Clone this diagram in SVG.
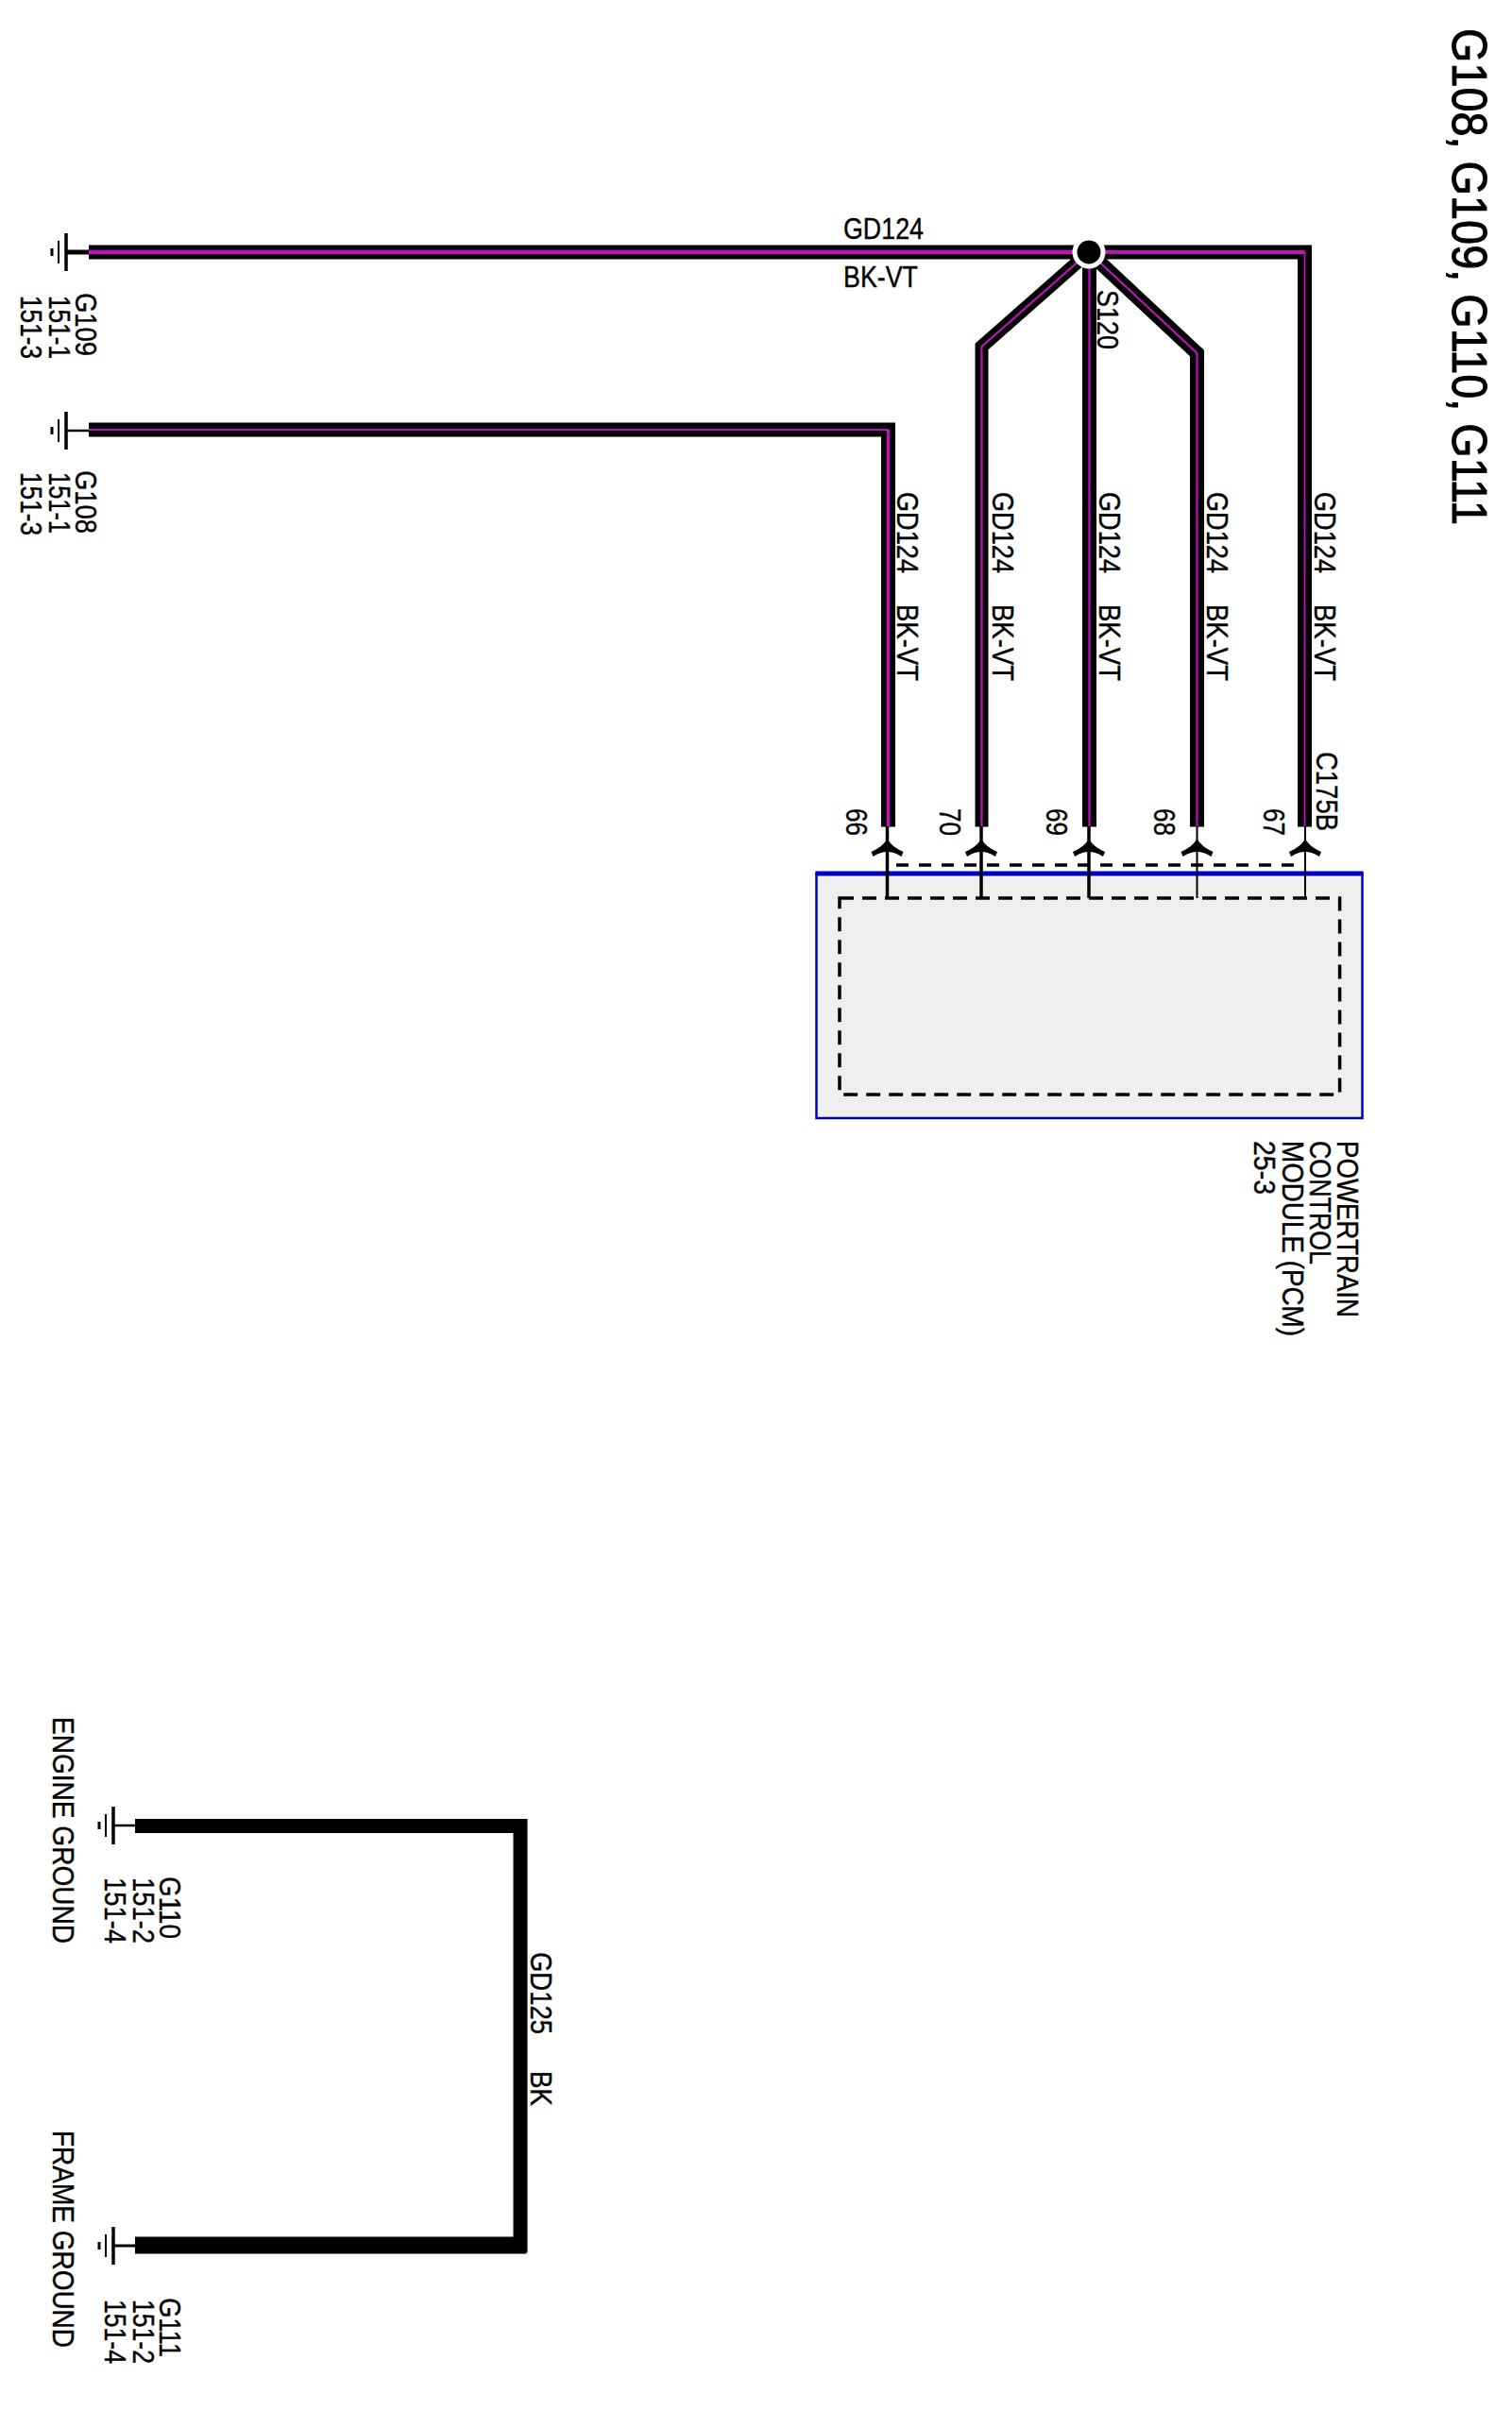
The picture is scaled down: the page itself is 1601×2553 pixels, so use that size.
<svg xmlns="http://www.w3.org/2000/svg" xmlns:xlink="http://www.w3.org/1999/xlink" width="1601" height="2553" viewBox="0 0 1601 2553">
<style>
text{font-family:"Liberation Sans",Arial,sans-serif;font-size:32px;fill:#000;stroke:#000;stroke-width:.4}
.title{font-size:51px;stroke-width:.9}
.bk{fill:none;stroke:#000;stroke-miterlimit:10}
.vt{fill:none;stroke:#bb14bb;stroke-miterlimit:10}
.dash{fill:none;stroke:#000;stroke-width:3.5}
.pin{stroke:#000;stroke-width:3.5;fill:none}
.chev{fill:#000;stroke:none}
.g{stroke:#000;fill:none}
</style>
<defs>
<path id="chev" class="chev" d="M0 -2 C4 5 10 9 17 12 L15 17 C9 13 4 12 0 12 C-4 12 -9 13 -15 17 L-17 12 C-10 9 -4 5 0 -2Z"/>
<g id="gnd1">
<path class="g" stroke-width="3.5" d="M0 -20V20"/>
<path class="g" stroke-width="2" d="M-8 -12V12"/>
<path class="g" stroke-width="3" d="M-15 -4V4"/>
</g>
</defs>
<rect width="1601" height="2553" fill="#fff"/>

<g id="title"><text class="title" transform="translate(1538,30) rotate(90)" textLength="526" lengthAdjust="spacingAndGlyphs">G108, G109, G110, G111</text></g>

<g id="connectors">
<path class="bk" stroke-width="15" d="M94 267H1153"/>
<path class="vt" stroke-width="4.5" d="M94 267H1153"/>
<path class="bk" stroke-width="15" d="M1153 267H1381.5V875.5"/>
<path class="vt" stroke-width="4" d="M1153 267H1381.5"/>
<path class="vt" stroke-width="1.8" d="M1381.5 267V875.5"/>
<path class="bk" stroke-width="15" d="M94 455H940.5V875.5"/>
<path class="vt" stroke-width="2" d="M94 455H940.5"/>
<path class="vt" stroke-width="3.5" d="M940.5 455V875.5"/>
<path class="bk" stroke-width="14" d="M1153 267L1039.5 367V875.5"/>
<path class="vt" stroke-width="2.2" d="M1153 267L1039.5 367V875.5"/>
<path class="bk" stroke-width="15" d="M1153.5 267V875.5"/>
<path class="vt" stroke-width="2.2" d="M1153.5 267V875.5"/>
<path class="bk" stroke-width="15" d="M1153 267L1267.5 374V875.5"/>
<path class="vt" stroke-width="2.2" d="M1153 267L1267.5 374V875.5"/>
<path class="bk" stroke-width="15" d="M143 1933.5H551V2377.5H143"/>
<path class="bk" stroke-width="18" d="M143 2377.5H557.5"/>
</g>

<g id="pcm">
<rect x="864.5" y="925" width="578" height="259" fill="#efefef" stroke="#0000c4" stroke-width="2.5"/>
<path d="M863.5 925H1443.5" stroke="#0000c4" stroke-width="5"/>
<path class="dash" d="M889 951H1418.6V1159H889Z" stroke-dasharray="15 9"/>
<path class="dash" d="M949 916H1382" stroke-dasharray="13 11"/>
<path class="pin" d="M939.5 875V951"/>
<path class="pin" d="M1039 875V951"/>
<path class="pin" d="M1153 875V951"/>
<path class="pin" style="stroke-width:2" d="M1267.5 875V951"/>
<path class="pin" style="stroke-width:2" d="M1382 875V951"/>
<use xlink:href="#chev" href="#chev" x="939.5" y="890"/>
<use xlink:href="#chev" href="#chev" x="1039" y="890"/>
<use xlink:href="#chev" href="#chev" x="1153" y="890"/>
<use xlink:href="#chev" href="#chev" x="1267.5" y="890"/>
<use xlink:href="#chev" href="#chev" x="1382" y="890"/>
<text transform="translate(1416,1208) rotate(90)" textLength="187" lengthAdjust="spacingAndGlyphs">POWERTRAIN</text>
<text transform="translate(1386.5,1208) rotate(90)" textLength="131" lengthAdjust="spacingAndGlyphs">CONTROL</text>
<text transform="translate(1358,1208) rotate(90)" textLength="207" lengthAdjust="spacingAndGlyphs">MODULE (PCM)</text>
<text transform="translate(1328,1208) rotate(90)" textLength="57" lengthAdjust="spacingAndGlyphs">25-3</text>
<text transform="translate(1394,796) rotate(90)" textLength="84" lengthAdjust="spacingAndGlyphs">C175B</text>
<text transform="translate(895.5,856) rotate(90)" textLength="29" lengthAdjust="spacingAndGlyphs">66</text>
<text transform="translate(995,856) rotate(90)" textLength="29" lengthAdjust="spacingAndGlyphs">70</text>
<text transform="translate(1108,856) rotate(90)" textLength="29" lengthAdjust="spacingAndGlyphs">69</text>
<text transform="translate(1221.5,856) rotate(90)" textLength="29" lengthAdjust="spacingAndGlyphs">68</text>
<text transform="translate(1337.5,856) rotate(90)" textLength="29" lengthAdjust="spacingAndGlyphs">67</text>
</g>

<g id="S120">
<circle cx="1153" cy="267" r="17.5" fill="#fff"/>
<circle cx="1153" cy="267" r="12.5" fill="#000"/>
<text transform="translate(1162,307) rotate(90)" textLength="63" lengthAdjust="spacingAndGlyphs">S120</text>
</g>

<g id="wire-labels">
<text x="893" y="252.5" textLength="85" lengthAdjust="spacingAndGlyphs">GD124</text>
<text x="893" y="304" textLength="79" lengthAdjust="spacingAndGlyphs">BK-VT</text>
<text transform="translate(950,521) rotate(90)" textLength="86" lengthAdjust="spacingAndGlyphs">GD124</text>
<text transform="translate(950,640) rotate(90)" textLength="81" lengthAdjust="spacingAndGlyphs">BK-VT</text>
<text transform="translate(1051,521) rotate(90)" textLength="86" lengthAdjust="spacingAndGlyphs">GD124</text>
<text transform="translate(1051,640) rotate(90)" textLength="81" lengthAdjust="spacingAndGlyphs">BK-VT</text>
<text transform="translate(1164,521) rotate(90)" textLength="86" lengthAdjust="spacingAndGlyphs">GD124</text>
<text transform="translate(1164,640) rotate(90)" textLength="81" lengthAdjust="spacingAndGlyphs">BK-VT</text>
<text transform="translate(1278,521) rotate(90)" textLength="86" lengthAdjust="spacingAndGlyphs">GD124</text>
<text transform="translate(1278,640) rotate(90)" textLength="81" lengthAdjust="spacingAndGlyphs">BK-VT</text>
<text transform="translate(1392,521) rotate(90)" textLength="86" lengthAdjust="spacingAndGlyphs">GD124</text>
<text transform="translate(1392,640) rotate(90)" textLength="81" lengthAdjust="spacingAndGlyphs">BK-VT</text>
<text transform="translate(562,2067) rotate(90)" textLength="87" lengthAdjust="spacingAndGlyphs">GD125</text>
<text transform="translate(562,2193) rotate(90)" textLength="37" lengthAdjust="spacingAndGlyphs">BK</text>
</g>

<g id="G109">
<use xlink:href="#gnd1" href="#gnd1" x="70" y="267"/>
<path class="g" stroke-width="5" d="M70 267H94"/>
<text transform="translate(80,310) rotate(90)" textLength="67" lengthAdjust="spacingAndGlyphs">G109</text>
<text transform="translate(52,313) rotate(90)" textLength="67" lengthAdjust="spacingAndGlyphs">151-1</text>
<text transform="translate(22,313) rotate(90)" textLength="67" lengthAdjust="spacingAndGlyphs">151-3</text>
</g>
<g id="G108">
<use xlink:href="#gnd1" href="#gnd1" x="70" y="456"/>
<path class="g" stroke-width="2.5" d="M70 456H94"/>
<text transform="translate(80,498) rotate(90)" textLength="67" lengthAdjust="spacingAndGlyphs">G108</text>
<text transform="translate(52,500) rotate(90)" textLength="65" lengthAdjust="spacingAndGlyphs">151-1</text>
<text transform="translate(22,500) rotate(90)" textLength="67" lengthAdjust="spacingAndGlyphs">151-3</text>
</g>
<g id="G110">
<use xlink:href="#gnd1" href="#gnd1" x="120" y="1933"/>
<path class="g" stroke-width="2.5" d="M120 1933H143"/>
<text transform="translate(55.7,1818) rotate(90)" textLength="240" lengthAdjust="spacingAndGlyphs">ENGINE GROUND</text>
<text transform="translate(169,1987) rotate(90)" textLength="66" lengthAdjust="spacingAndGlyphs">G110</text>
<text transform="translate(141,1988) rotate(90)" textLength="70" lengthAdjust="spacingAndGlyphs">151-2</text>
<text transform="translate(111,1988) rotate(90)" textLength="70" lengthAdjust="spacingAndGlyphs">151-4</text>
</g>
<g id="G111">
<use xlink:href="#gnd1" href="#gnd1" x="120" y="2378"/>
<path class="g" stroke-width="3" d="M120 2378H143"/>
<text transform="translate(55.7,2256) rotate(90)" textLength="230" lengthAdjust="spacingAndGlyphs">FRAME GROUND</text>
<text transform="translate(169,2433) rotate(90)" textLength="63" lengthAdjust="spacingAndGlyphs">G111</text>
<text transform="translate(141,2435) rotate(90)" textLength="68" lengthAdjust="spacingAndGlyphs">151-2</text>
<text transform="translate(111,2435) rotate(90)" textLength="68" lengthAdjust="spacingAndGlyphs">151-4</text>
</g>
</svg>
